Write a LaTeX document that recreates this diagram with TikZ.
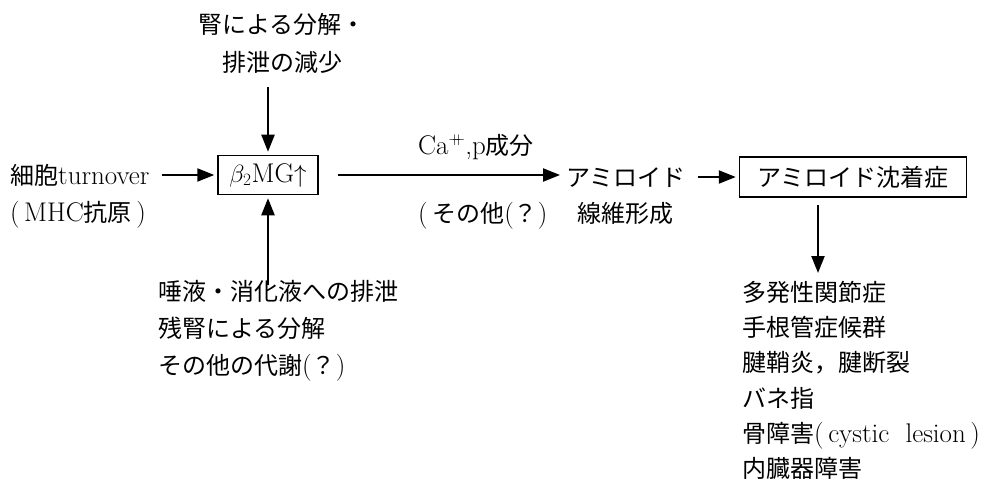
\documentclass[tikz,border=0pt]{standalone}
\usepackage{fontspec}
\newfontfamily\cjkfont{Noto Sans CJK JP}
\usetikzlibrary{arrows.meta}
\newcommand\jp[1]{{\fontsize{24}{24}\cjkfont #1}}
\begin{document}
\begin{tikzpicture}[x=1pt,y=-1pt,
  txt/.style={inner sep=0pt, anchor=base west, font=\fontsize{27}{27}\selectfont},
  arr/.style={line width=2.2pt, -{Triangle[length=17pt,width=13pt]}, shorten >=3pt},
  boxn/.style={draw, line width=1.5pt, inner sep=0pt, font=\fontsize{27}{27}\selectfont}]
\useasboundingbox (0,0) rectangle (990,492);
% top text
\node[txt] (t1) at (198,34) {\jp{腎による分解・}};
\node[txt] (t2) at (222,72) {\jp{排泄の減少}};
% central box
\node[boxn, minimum width=100pt, minimum height=39pt] (b) at (268,175) {$\beta_2$MG$\uparrow$};
\coordinate (a1) at (268,87);
\draw[arr] (a1) -- (b.north);
% left text
\node[txt] (l1) at (10,184) {\jp{細胞}turnover};
\node[txt] (l2) at (10,221) {(\,MHC\jp{抗原}\,)};
\draw[arr] ([xshift=12pt]l1.east |- b.west) -- (b.west);
% bottom-left text
\node[txt] (m1) at (158,300) {\jp{唾液・消化液への排泄}};
\node[txt] (m2) at (158,337) {\jp{残腎による分解}};
\node[txt] (m3) at (158,374) {\jp{その他の代謝}(\jp{？})};
\coordinate (a2) at (268,285);
\draw[arr] (a2) -- (b.south);
% middle
\node[txt] (am) at (566,186) {\jp{アミロイド}};
\node[txt] (fb) at (577,222) {\jp{線維形成}};
\node[txt] (ca) at (418,154) {Ca$^{+\mkern-9mu+}$,p\jp{成分}};
\node[txt] (ot) at (418,222) {(\,\jp{その他}(\jp{？})};
\draw[arr, shorten >=6pt] ([xshift=19pt]b.east) -- (am.west |- b.east);
% amyloid deposit box
\node[boxn, minimum width=227pt, minimum height=40pt] (b2) at (853,177) {\jp{アミロイド沈着症}};
\draw[arr] ([xshift=12pt]am.east |- b2.west) -- (b2.west);
% list
\node[txt] (r1) at (742,301) {\jp{多発性関節症}};
\node[txt] (r2) at (742,336) {\jp{手根管症候群}};
\node[txt] (r3) at (742,371) {\jp{腱鞘炎，腱断裂}};
\node[txt] (r4) at (742,407) {\jp{バネ指}};
\node[txt] (r5) at (742,442) {\jp{骨障害}(\,cystic\ \ lesion\,)};
\node[txt] (r6) at (742,477) {\jp{内臓器障害}};
\coordinate (d1) at (818,205);
\coordinate (d2) at (818,276);
\draw[arr] (d1) -- (d2);
\end{tikzpicture}
\end{document}
